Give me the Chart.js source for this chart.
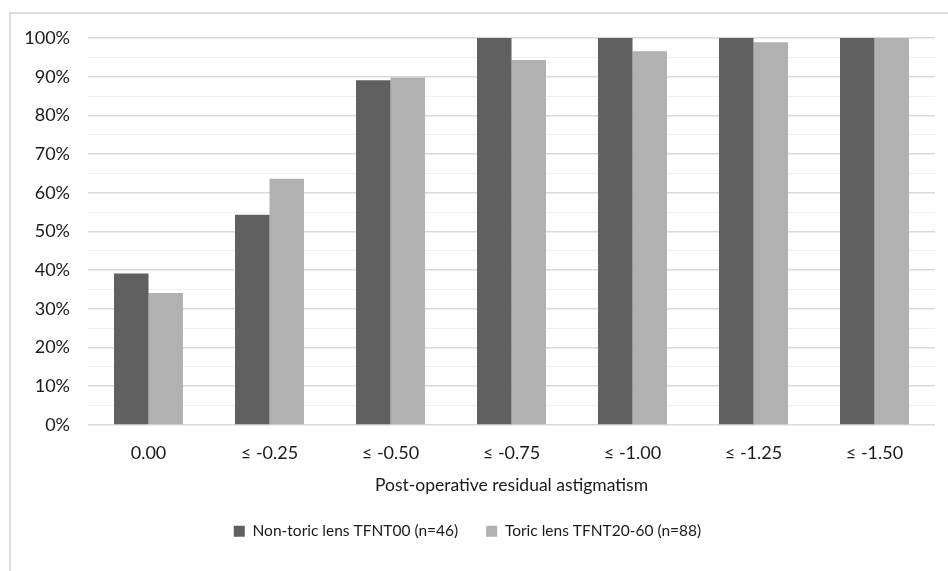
<!DOCTYPE html>
<html>
<head>
<meta charset="utf-8">
<script src="https://cdn.jsdelivr.net/npm/chart.js@4.4.1/dist/chart.umd.min.js"></script>
<style>
    html, body { margin: 0; padding: 0; background: #fff; }
    #wrap { position: relative; width: 948px; height: 571px; overflow: hidden; }
    #frame { position: absolute; left: 9px; top: 12px; width: 1000px; height: 600px; border: 2px solid #dcdcdc; box-sizing: border-box; }
    canvas { position: absolute; left: 0; top: 0; }
</style>
</head>
<body>
<div id="wrap">
    <div id="frame"></div>
    <canvas id="chart" width="948" height="571"></canvas>
</div>
<script>
// Data
const categories = ['0.00', '≤ -0.25', '≤ -0.50', '≤ -0.75', '≤ -1.00', '≤ -1.25', '≤ -1.50'];
const nonToric = [39.1, 54.3, 89.1, 100, 100, 100, 100];
const toric = [34.1, 63.6, 89.8, 94.3, 96.6, 98.9, 100];
const seriesNames = ['Non-toric lens TFNT00 (n=46)', 'Toric lens TFNT20-60 (n=88)'];
const axisTitle = 'Post-operative residual astigmatism';

const FONT = 'Lato';
const TEXT = '#1a1a1a';

new Chart(document.getElementById('chart'), {
    type: 'bar',
    data: {
        labels: categories,
        datasets: [{
            label: seriesNames[0],
            data: nonToric,
            backgroundColor: '#606060'
        }, {
            label: seriesNames[1],
            data: toric,
            backgroundColor: '#b1b1b1'
        }]
    },
    options: {
        responsive: false,
        animation: false,
        layout: {
            padding: { top: 38, right: 13, bottom: 22, left: 0 }
        },
        datasets: {
            bar: {
                categoryPercentage: 0.57,
                barPercentage: 1.0
            }
        },
        plugins: {
            legend: {
                position: 'bottom',
                labels: {
                    color: TEXT,
                    boxWidth: 11,
                    boxHeight: 11,
                    padding: 28,
                    font: { family: FONT, size: 15.5 }
                }
            },
            tooltip: { enabled: false }
        },
        scales: {
            x: {
                grid: { display: false },
                border: { display: false },
                ticks: {
                    color: TEXT,
                    padding: 9,
                    font: { family: FONT, size: 18 }
                },
                title: {
                    display: true,
                    text: axisTitle,
                    color: TEXT,
                    padding: { top: 2, bottom: 0 },
                    font: { family: FONT, size: 17.5 }
                }
            },
            y: {
                min: 0,
                max: 100,
                afterFit: scale => { scale.width = 88; },
                border: { display: false },
                grid: {
                    drawTicks: false,
                    lineWidth: ctx => (ctx.tick && ctx.tick.value % 10 === 0 ? 1.5 : 1),
                    color: ctx => (ctx.tick && ctx.tick.value % 10 === 0 ? '#d9d9d9' : '#f0f0f0')
                },
                ticks: {
                    stepSize: 5,
                    autoSkip: false,
                    color: TEXT,
                    padding: 18,
                    font: { family: FONT, size: 18 },
                    callback: v => (v % 10 === 0 ? v + '%' : '')
                }
            }
        }
    }
});
</script>
</body>
</html>
